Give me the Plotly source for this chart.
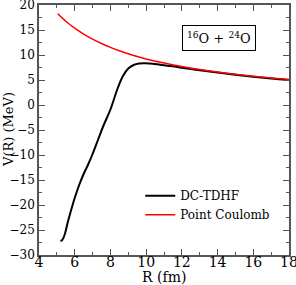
import numpy as np
import plotly.graph_objects as go

# DC-TDHF potential
r_tdhf = [5.2, 5.3, 5.45, 5.6, 5.8, 6.0, 6.25, 6.5, 6.75, 7.0, 7.3, 7.6, 8.0, 8.4, 8.7, 9.0, 9.3, 9.6, 9.9, 10.2, 10.8, 11.5, 12.0, 13.0, 14.0, 15.0, 16.0, 17.0, 18.0]
v_tdhf = [-27.2, -27.0, -25.8, -23.6, -21.0, -18.6, -16.0, -13.8, -11.9, -9.8, -7.0, -4.2, -0.9, 3.3, 5.8, 7.3, 8.0, 8.3, 8.35, 8.3, 8.05, 7.75, 7.45, 6.95, 6.5, 6.05, 5.65, 5.3, 5.0]

# Point Coulomb potential
r_coul = [5.05, 5.5, 6.0, 6.5, 7.0, 7.5, 8.0, 8.5, 9.0, 9.5, 10.0, 11.0, 12.0, 13.0, 14.0, 15.0, 16.0, 17.0, 18.0]
v_coul = [18.25, 16.75, 15.36, 14.18, 13.17, 12.29, 11.52, 10.84, 10.24, 9.70, 9.22, 8.38, 7.68, 7.09, 6.58, 6.14, 5.76, 5.42, 5.12]

serif = "DejaVu Serif"

fig = go.Figure()
fig.add_trace(go.Scatter(x=r_tdhf, y=v_tdhf, mode="lines", name="DC-TDHF",
                         line=dict(color="black", width=2, shape="spline")))
fig.add_trace(go.Scatter(x=r_coul, y=v_coul, mode="lines", name="Point Coulomb",
                         line=dict(color="#ff0000", width=1.5, shape="spline")))

axis_common = dict(showgrid=False, zeroline=False, showline=True, linecolor="#555",
                   linewidth=1.5, mirror="allticks", ticks="inside", ticklen=6,
                   tickcolor="#555", tickwidth=1, automargin=False,
                   ticklabeloverflow="allow")

fig.update_xaxes(range=[4, 18], dtick=2, tick0=4,
                 minor=dict(ticks="inside", ticklen=3, dtick=1, tickcolor="#555"),
                 tickfont=dict(family=serif, size=14, color="black"),
                 ticklabelstandoff=-7,
                 **axis_common)
fig.update_yaxes(range=[-30, 20], dtick=5, tick0=0,
                 minor=dict(ticks="inside", ticklen=3, dtick=2.5, tickcolor="#555"),
                 tickfont=dict(family=serif, size=12, color="black"),
                 **axis_common)

# axis titles
fig.add_annotation(x=0.5, y=-0.088, xref="paper", yref="paper", text="R (fm)",
                   showarrow=False, xanchor="center", yanchor="middle",
                   font=dict(family=serif, size=14, color="black"))
fig.add_annotation(x=-0.124, y=0.5, xref="paper", yref="paper", text="V(R) (MeV)",
                   showarrow=False, xanchor="center", yanchor="middle", textangle=-90,
                   font=dict(family=serif, size=13, color="black"))

fig.add_annotation(x=0.72, y=0.87, xref="paper", yref="paper",
                   text="<sup>16</sup>O + <sup>24</sup>O", showarrow=False,
                   xanchor="center", yanchor="middle",
                   font=dict(family=serif, size=13, color="black"),
                   bordercolor="black", borderwidth=1, borderpad=4, bgcolor="white")

fig.update_layout(width=296, height=285, margin=dict(l=39, r=7, t=5, b=30),
                  plot_bgcolor="white", paper_bgcolor="white",
                  font=dict(family=serif),
                  legend=dict(x=0.405, y=0.295, xanchor="left", yanchor="top",
                              font=dict(family=serif, size=12, color="black"),
                              bgcolor="rgba(0,0,0,0)", tracegroupgap=0, itemwidth=30))

fig.write_html("out.html", config={"displayModeBar": False},
               post_script="document.body.style.margin='0';document.body.style.overflow='hidden';")
